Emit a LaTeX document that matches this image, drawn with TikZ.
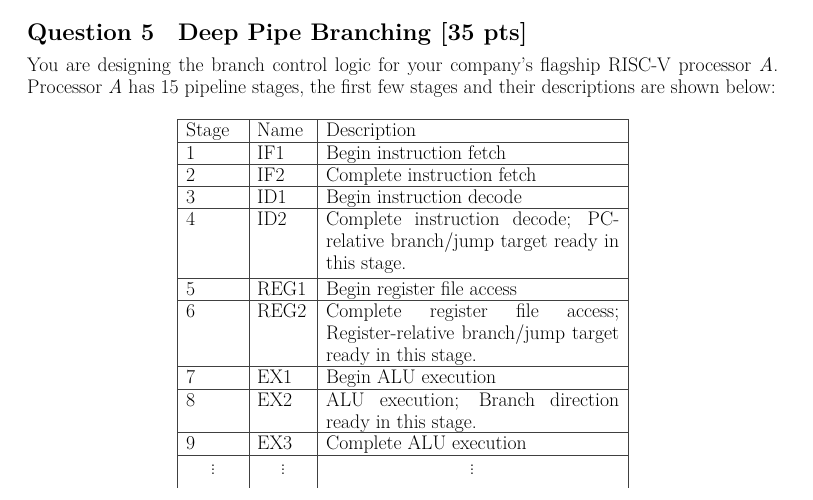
\documentclass[tikz,border=0pt]{standalone}
\begin{document}
\begin{tikzpicture}[x=1pt,y=-1pt,
  txt/.style={anchor=base west,inner sep=0pt,font=\fontsize{19.7}{22}\selectfont},
  rule/.style={draw=black!75,line width=0.9pt}]
\useasboundingbox (0,0) rectangle (813,499);
\node[txt,font=\fontsize{24}{30}\selectfont\bfseries] (q) at (27,40) {Question 5};
\node[txt,font=\fontsize{24}{30}\selectfont\bfseries] (qt) at (178,40) {Deep Pipe Branching [35 pts]};
\node[txt] (p1) at (27,71) {\hbox to 751pt{You are designing the branch control logic for your company's flagship RISC-V processor \textit{A}.}};
\node[txt] (p2) at (27,93) {Processor \textit{A} has 15 pipeline stages, the first few stages and their descriptions are shown below:};
% rules
\foreach \y in {119,142,164,186,208,278,300,366,389,432,455}
  \draw[rule] (177,\y) -- (628,\y);
\foreach \x in {177,249,317,628}
  \draw[rule] (\x,119) -- (\x,488);
% header
\node[txt] (h1) at (186,136) {Stage};
\node[txt] (h2) at (257,136) {Name};
\node[txt] (h3) at (326,136) {Description};
% rows
\node[txt] (s1) at (186,159) {1}; \node[txt] (n1) at (257,159) {IF1}; \node[txt] (d1) at (326,159) {Begin instruction fetch};
\node[txt] (s2) at (186,181) {2}; \node[txt] (n2) at (257,181) {IF2}; \node[txt] (d2) at (326,181) {Complete instruction fetch};
\node[txt] (s3) at (186,203) {3}; \node[txt] (n3) at (257,203) {ID1}; \node[txt] (d3) at (326,203) {Begin instruction decode};
\node[txt] (s4) at (186,225) {4}; \node[txt] (n4) at (257,225) {ID2};
\node[txt] (d4a) at (326,225) {\hbox to 293pt{Complete instruction decode; PC-}};
\node[txt] (d4b) at (326,247) {\hbox to 293pt{relative branch/jump target ready in}};
\node[txt] (d4c) at (326,269) {this stage.};
\node[txt] (s5) at (186,295) {5}; \node[txt] (n5) at (257,295) {REG1}; \node[txt] (d5) at (326,295) {Begin register file access};
\node[txt] (s6) at (186,317) {6}; \node[txt] (n6) at (257,317) {REG2};
\node[txt] (d6a) at (326,317) {\hbox to 293pt{Complete register file access;}};
\node[txt] (d6b) at (326,339) {\hbox to 293pt{Register-relative branch/jump target}};
\node[txt] (d6c) at (326,361) {ready in this stage.};
\node[txt] (s7) at (186,383) {7}; \node[txt] (n7) at (257,383) {EX1}; \node[txt] (d7) at (326,383) {Begin ALU execution};
\node[txt] (s8) at (186,406) {8}; \node[txt] (n8) at (257,406) {EX2};
\node[txt] (d8a) at (326,406) {\hbox to 293pt{ALU execution; Branch direction}};
\node[txt] (d8b) at (326,428) {ready in this stage.};
\node[txt] (s9) at (186,449) {9}; \node[txt] (n9) at (257,449) {EX3}; \node[txt] (d9) at (326,449) {Complete ALU execution};
\node[txt,anchor=base] (v1) at (213,474) {$\vdots$};
\node[txt,anchor=base] (v2) at (283,474) {$\vdots$};
\node[txt,anchor=base] (v3) at (472,474) {$\vdots$};
\end{tikzpicture}
\end{document}
